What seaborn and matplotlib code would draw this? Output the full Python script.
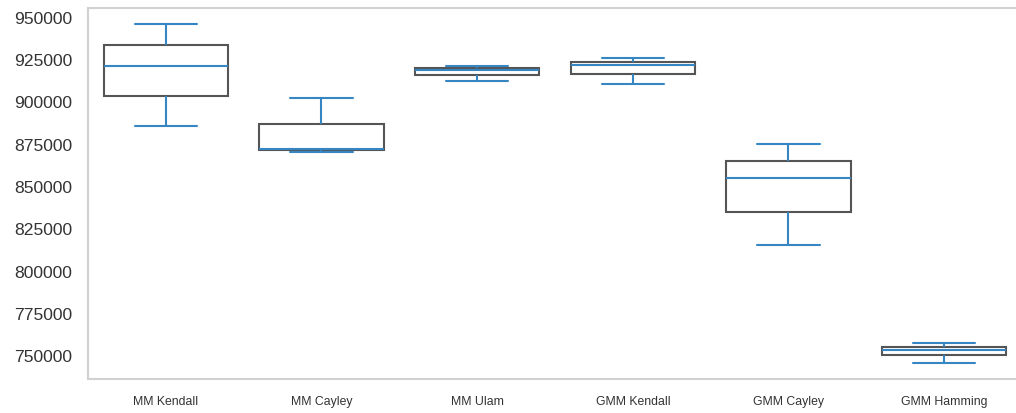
import numpy as np
import pandas as pd
import matplotlib
matplotlib.use('Agg')
import matplotlib.pyplot as plt
import seaborn as sns

# 값은 그림에서 읽은 추정치 (하단 whisker, Q1, 중앙값, Q3, 상단 whisker)
methods = ['MM Kendall', 'MM Cayley', 'MM Ulam', 'GMM Kendall', 'GMM Cayley', 'GMM Hamming']
mm_kendall = [886100, 903800, 921600, 934000, 946400]
mm_cayley = [870700, 871900, 872500, 887300, 902700]
mm_ulam = [912500, 916300, 919400, 920400, 921800]
gmm_kendall = [911100, 916900, 922000, 923800, 926200]
gmm_cayley = [815700, 835200, 855300, 865400, 875400]
gmm_hamming = [746100, 750400, 753600, 755400, 757500]
yticks = [750000, 775000, 800000, 825000, 850000, 875000, 900000, 925000, 950000]

series = [mm_kendall, mm_cayley, mm_ulam, gmm_kendall, gmm_cayley, gmm_hamming]
df = pd.DataFrame({
    'method': np.repeat(methods, [len(s) for s in series]),
    'score': np.concatenate(series),
})

sns.set_style('white')
plt.rcParams['font.family'] = ['Liberation Sans', 'DejaVu Sans']

blue = '#3686c3'
edge = '#555555'

fig = plt.figure(figsize=(10.16, 4.13), dpi=100)
ax = fig.add_axes([0.0866, 0.0823, 0.9193, 0.8983])

sns.boxplot(data=df, x='method', y='score', order=methods, whis=(0, 100),
            width=0.8, color='white', linecolor=edge, linewidth=1.5,
            boxprops=dict(facecolor='white', edgecolor=edge),
            medianprops=dict(color=blue),
            whiskerprops=dict(color=blue),
            capprops=dict(color=blue),
            showfliers=False, ax=ax)

ax.set_xlim(-0.5, 5.5)
ax.set_ylim(736400, 955900)
ax.set_yticks(yticks)
ax.ticklabel_format(axis='y', style='plain', useOffset=False)
ax.tick_params(axis='y', labelsize=12.6, pad=8, colors='.2')
ax.tick_params(axis='x', labelsize=8.8, pad=8.5, colors='.2')
ax.set_xlabel('')
ax.set_ylabel('')
for s in ax.spines.values():
    s.set_color('.82')
    s.set_linewidth(1.5)

fig.savefig('out.png', dpi=100)
